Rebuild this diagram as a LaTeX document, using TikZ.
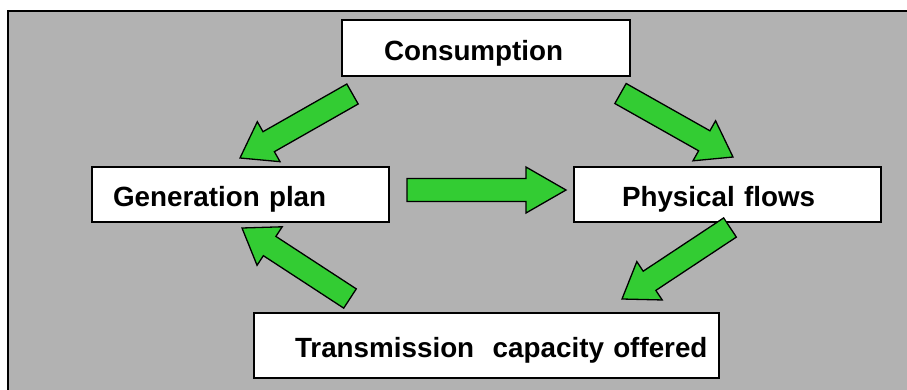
\documentclass[tikz,border=0pt]{standalone}
\usepackage{fontspec}
\setmainfont{Liberation Sans}
\usetikzlibrary{calc}
\definecolor{panelgray}{HTML}{B2B2B2}
\definecolor{arrowgreen}{HTML}{33CC33}

\tikzset{
    stage/.style={draw=black, line width=1.5pt, fill=white, align=left,
        inner xsep=0pt, inner ysep=0pt, text height=24pt, text depth=0pt,
        font=\fontsize{27.8}{33}\selectfont\bfseries},
    flow/.style={draw=black, line width=1.3pt, fill=arrowgreen, line join=miter},
}

% block arrow: [head length]{tail}{tip}
\newcommand{\blockarrow}[3][33pt]{%
    \coordinate (j) at ($(#3)!#1!(#2)$);
    \filldraw[flow] ($(#2)!11.5pt!90:(#3)$) -- ($(j)!11.5pt!-90:(#2)$) -- ($(j)!23pt!-90:(#2)$)
        -- (#3) -- ($(j)!23pt!90:(#2)$) -- ($(j)!11.5pt!90:(#2)$) -- ($(#2)!11.5pt!-90:(#3)$) -- cycle;
}

\begin{document}
\begin{tikzpicture}[x=1pt,y=-1pt]
        \useasboundingbox (0,0) rectangle (907,389);
        \begin{scope}
            \clip (0,0) rectangle (907,389);
            \draw[line width=1.6pt, fill=panelgray] (8,11) rectangle (920,400);
        \end{scope}

        \node[stage, text width=288pt, minimum height=56pt] (cons) at (486,48) {\hspace*{42pt}Consumption};
        \node[stage, text width=297pt, minimum height=55pt] (gen) at (240.5,194.5) {\hspace*{21pt}Generation plan};
        \node[stage, text width=307pt, minimum height=55pt] (phys) at (727.5,194.5) {\hspace*{48pt}Physical flows};
        \node[stage, text width=465pt, minimum height=65pt] (trans) at (486.5,345.5) {\hspace*{41pt}Transmission~~capacity offered};

        \coordinate (cg-tail) at (352.5,94);  \coordinate (cg-tip) at (240,158);
        \coordinate (cp-tail) at (620.5,93.5); \coordinate (cp-tip) at (733,157);
        \coordinate (gp-tail) at (407,190);   \coordinate (gp-tip) at (566,190);
        \coordinate (pt-tail) at (730,227.5); \coordinate (pt-tip) at (622,299);
        \coordinate (tg-tail) at (350,298.5); \coordinate (tg-tip) at (242,228);

        \blockarrow{cg-tail}{cg-tip}
        \blockarrow{cp-tail}{cp-tip}
        \blockarrow[40pt]{gp-tail}{gp-tip}
        \blockarrow{pt-tail}{pt-tip}
        \blockarrow{tg-tail}{tg-tip}
    \end{tikzpicture}
\end{document}
